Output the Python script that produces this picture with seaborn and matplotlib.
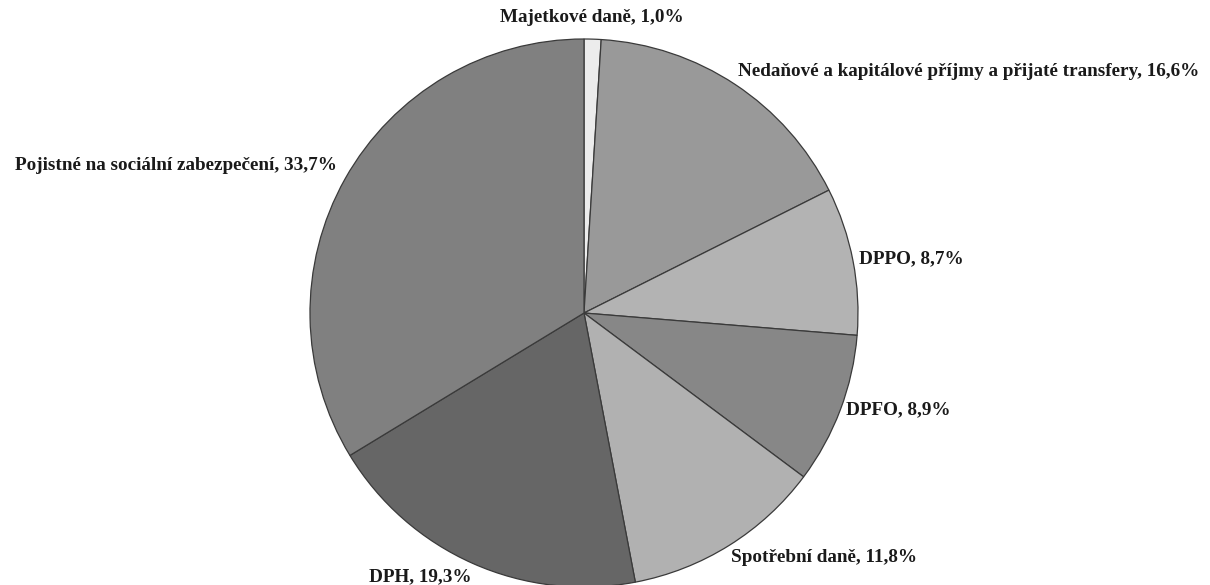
import matplotlib
matplotlib.use("Agg")
import matplotlib.pyplot as plt
import seaborn as sns

# Struktura příjmů
categories = [
    "Majetkové daně",
    "Nedaňové a kapitálové příjmy a přijaté transfery",
    "DPPO",
    "DPFO",
    "Spotřební daně",
    "DPH",
    "Pojistné na sociální zabezpečení",
]
shares = [1.0, 16.6, 8.7, 8.9, 11.8, 19.3, 33.7]
colors = ["#ececec", "#999999", "#b3b3b3", "#878787", "#b1b1b1", "#666666", "#808080"]

# label anchor positions (pixels from top-left) and horizontal alignment
label_pos = [
    (592, 18, "center"),
    (738, 72, "left"),
    (859, 259, "left"),
    (846, 410, "left"),
    (731, 558, "left"),
    (420, 577, "center"),
    (337, 165, "right"),
]

sns.set_style("white")
plt.rcParams["font.family"] = ["Liberation Serif", "DejaVu Serif"]

W, H = 1210, 585
fig = plt.figure(figsize=(W / 100, H / 100), dpi=100)
cx, cy, r = 584, 313, 274
ax = fig.add_axes([(cx - r) / W, (H - cy - r) / H, 2 * r / W, 2 * r / H])
ax.pie(
    shares,
    colors=colors,
    startangle=90,
    counterclock=False,
    radius=1.0,
    wedgeprops=dict(edgecolor="#3a3a3a", linewidth=0.9),
)
ax.set_xlim(-1, 1)
ax.set_ylim(-1, 1)
ax.set_aspect("auto")
ax.axis("off")
for p in ax.patches:
    p.set_clip_on(False)

for name, val, (x, y, ha) in zip(categories, shares, label_pos):
    txt = f"{name}, {val:.1f}".replace(".", ",") + "%"
    fig.text(x / W, 1 - y / H, txt, ha=ha, va="center",
             fontsize=13.8, fontweight="bold", color="#1a1a1a")

fig.savefig("out.png", dpi=100, facecolor="white")
